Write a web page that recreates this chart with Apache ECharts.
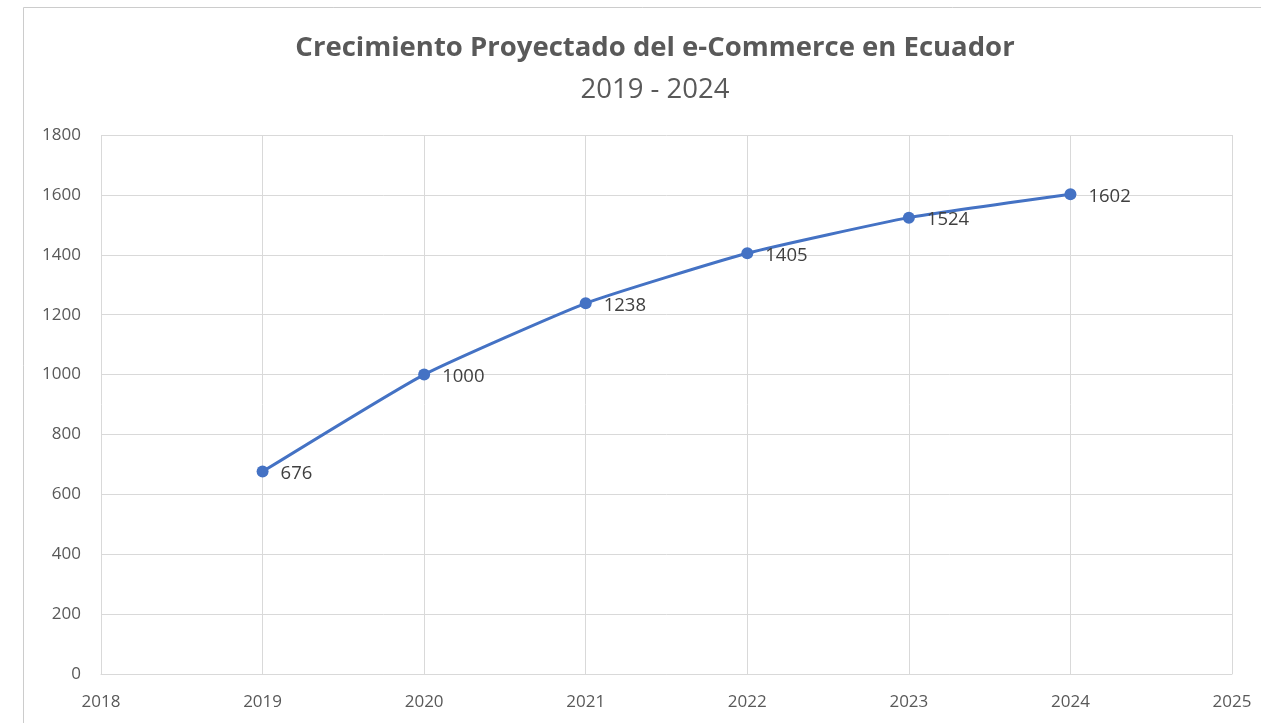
<!DOCTYPE html>
<html>
<head>
<meta charset="utf-8">
<script src="https://cdn.jsdelivr.net/npm/echarts@6/dist/echarts.min.js"></script>
<style>
  html, body { margin: 0; padding: 0; background: #fff; }
  #chart { width: 1261px; height: 723px; }
</style>
</head>
<body>
<div id="chart"></div>
<script>
// Projected e-commerce figures per year
const years = [2019, 2020, 2021, 2022, 2023, 2024];
const values = [676, 1000, 1238, 1405, 1524, 1602];

const titleText = 'Crecimiento Proyectado del e-Commerce en Ecuador';
const subtitleText = '2019 - 2024';

const points = years.map((y, i) => [y, values[i]]);
const font = '"Open Sans", "Liberation Sans", sans-serif';
const gridColor = '#d9d9d9';
const textColor = '#595959';

const chart = echarts.init(document.getElementById('chart'));
chart.setOption({
  backgroundColor: '#fff',
  animation: false,
  graphic: [{
    type: 'rect',
    shape: { x: 23.5, y: 7.5, width: 1300, height: 800 },
    style: { fill: 'none', stroke: '#cccccc', lineWidth: 1 },
    silent: true
  }],
  title: {
    text: titleText,
    subtext: subtitleText,
    left: 650,
    textAlign: 'center',
    top: 29,
    itemGap: 14,
    textStyle: { fontFamily: font, fontWeight: 'bold', fontSize: 27.5, color: textColor },
    subtextStyle: { fontFamily: font, fontSize: 27.5, color: textColor }
  },
  grid: { left: 101, right: 29, top: 135, bottom: 49 },
  xAxis: {
    type: 'value',
    min: 2018,
    max: 2025,
    interval: 1,
    axisLine: { show: true, onZero: false, lineStyle: { color: gridColor, width: 1 } },
    axisTick: { show: false },
    axisLabel: { color: textColor, fontFamily: font, fontSize: 17, margin: 20, formatter: v => String(v) },
    splitLine: { show: true, lineStyle: { color: gridColor, width: 1 } }
  },
  yAxis: {
    type: 'value',
    min: 0,
    max: 1800,
    interval: 200,
    axisLine: { show: false },
    axisTick: { show: false },
    axisLabel: { color: textColor, fontFamily: font, fontSize: 17, margin: 20, formatter: v => String(v) },
    splitLine: { show: true, lineStyle: { color: gridColor, width: 1 } }
  },
  series: [{
    type: 'line',
    data: points,
    smooth: 0.15,
    symbol: 'circle',
    symbolSize: 12,
    lineStyle: { color: '#4472c4', width: 3 },
    itemStyle: { color: '#4472c4' },
    label: {
      show: true,
      position: 'right',
      distance: 12,
      offset: [0, 2],
      color: '#404040',
      fontFamily: font,
      fontSize: 18.5,
      formatter: p => String(p.value[1])
    }
  }]
});
</script>
</body>
</html>
